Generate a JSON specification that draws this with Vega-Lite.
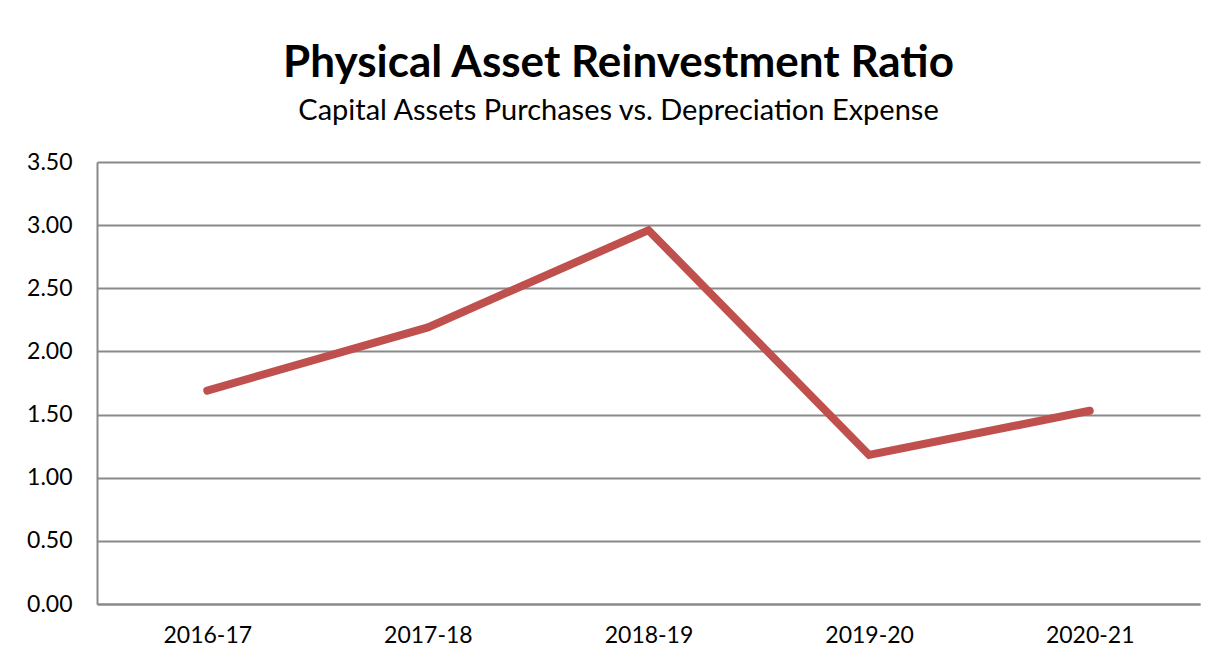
{
  "$schema": "https://vega.github.io/schema/vega-lite/v6.json",
  "width": 1103,
  "height": 442,
  "autosize": {"type": "none"},
  "padding": {"left": 97, "top": 162, "right": 17, "bottom": 63},
  "background": "white",
  "title": {
    "text": "Physical Asset Reinvestment Ratio",
    "subtitle": "Capital Assets Purchases vs. Depreciation Expense",
    "font": "Lato",
    "subtitleFont": "Lato",
    "fontSize": 44,
    "fontWeight": "bold",
    "subtitleFontSize": 29,
    "subtitleFontWeight": "normal",
    "color": "black",
    "subtitleColor": "black",
    "anchor": "middle",
    "dx": -30,
    "offset": 25,
    "subtitlePadding": 11
  },
  "data": {
    "values": [
      {"year": "2016-17", "ratio": 1.69},
      {"year": "2017-18", "ratio": 2.19},
      {"year": "2018-19", "ratio": 2.96},
      {"year": "2019-20", "ratio": 1.18},
      {"year": "2020-21", "ratio": 1.53}
    ]
  },
  "mark": {"type": "line", "color": "#C0504D", "strokeWidth": 8, "strokeCap": "round", "strokeJoin": "miter"},
  "encoding": {
    "x": {
      "field": "year", "type": "ordinal", "title": null,
      "scale": {"type": "point", "padding": 0.5},
      "axis": {"labelAngle": 0, "labelFont": "Lato", "labelFontSize": 23, "labelColor": "black", "ticks": false, "labelPadding": 20, "domainColor": "#898989", "domainWidth": 2, "grid": false}
    },
    "y": {
      "field": "ratio", "type": "quantitative", "title": null,
      "scale": {"domain": [0, 3.5], "nice": false},
      "axis": {"values": [0, 0.5, 1, 1.5, 2, 2.5, 3, 3.5], "format": ".2f", "labelFont": "Lato", "labelFontSize": 23, "labelColor": "black", "ticks": false, "labelPadding": 25, "domainColor": "#898989", "domainWidth": 2, "grid": true, "gridColor": "#898989", "gridWidth": 2}
    }
  },
  "config": {"view": {"stroke": null}}
}
